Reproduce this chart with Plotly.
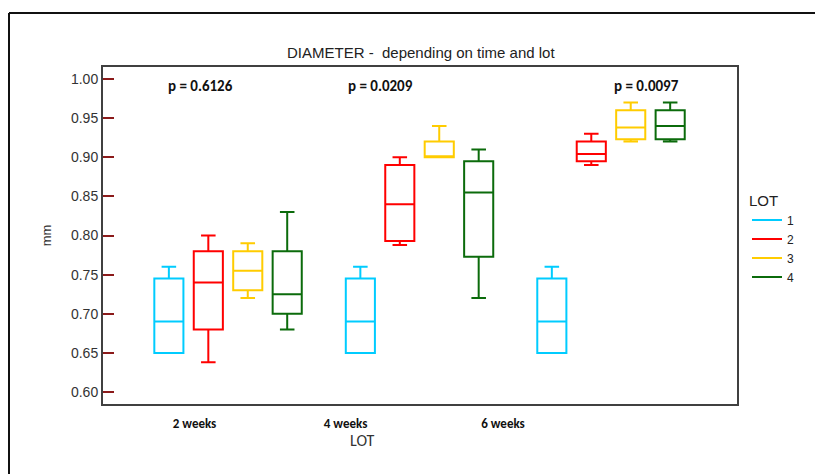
import plotly.graph_objects as go

# ---- data ----
groups = ["2 weeks", "4 weeks", "6 weeks"]
lots = ["1", "2", "3", "4"]
p_values = ["p = 0.6126", "p = 0.0209", "p = 0.0097"]

lot1_min = [0.65, 0.65, 0.65]
lot1_q1 = [0.65, 0.65, 0.65]
lot1_med = [0.69, 0.69, 0.69]
lot1_q3 = [0.745, 0.745, 0.745]
lot1_max = [0.76, 0.76, 0.76]

lot2_min = [0.638, 0.788, 0.89]
lot2_q1 = [0.68, 0.793, 0.895]
lot2_med = [0.74, 0.84, 0.904]
lot2_q3 = [0.78, 0.89, 0.92]
lot2_max = [0.80, 0.90, 0.93]

lot3_min = [0.72, 0.90, 0.92]
lot3_q1 = [0.73, 0.90, 0.923]
lot3_med = [0.755, 0.90, 0.938]
lot3_q3 = [0.78, 0.92, 0.96]
lot3_max = [0.79, 0.94, 0.97]

lot4_min = [0.68, 0.72, 0.92]
lot4_q1 = [0.70, 0.773, 0.923]
lot4_med = [0.725, 0.855, 0.94]
lot4_q3 = [0.78, 0.895, 0.96]
lot4_max = [0.83, 0.91, 0.97]

stats = [
    (lot1_min, lot1_q1, lot1_med, lot1_q3, lot1_max),
    (lot2_min, lot2_q1, lot2_med, lot2_q3, lot2_max),
    (lot3_min, lot3_q1, lot3_med, lot3_q3, lot3_max),
    (lot4_min, lot4_q1, lot4_med, lot4_q3, lot4_max),
]

# ---- styling / layout ----
colors = ["#00CCFF", "#FF0000", "#FFCC00", "#0B6B0B"]
lot_spacing = 0.206
box_width = 0.152
group_pos = [1, 2, 3]
label_shift = [-0.175, -0.386, -0.564]   # tick labels sit left of group centres in the reference
pval_shift = [-0.146, -0.204, 0.183]

# page has an 8px body margin; compensate so the plot area lands at x 103-737, y 67-404
OFF = 8
W, H = 823, 474
PL, PR, PT, PB = 103, 737, 67, 404
calibri = "Carlito, Lato, Open Sans, sans-serif"
arial = "Liberation Sans, Arial, sans-serif"

fig = go.Figure()
for i, (lo, q1, med, q3, hi) in enumerate(stats):
    xs = [g + (i - 1.5) * lot_spacing for g in group_pos]
    fig.add_trace(go.Box(
        x=xs, lowerfence=lo, q1=q1, median=med, q3=q3, upperfence=hi,
        width=box_width, whiskerwidth=0.5, boxpoints=False,
        line=dict(color=colors[i], width=2), fillcolor="rgba(0,0,0,0)",
        name=lots[i], showlegend=False, hoverinfo="skip",
    ))
    fig.add_trace(go.Scatter(
        x=[None], y=[None], mode="lines", name=lots[i],
        line=dict(color=colors[i], width=2),
    ))


def px_x(px):
    return (px - PL) / (PR - PL)


def px_y(py):
    return (PB - py) / (PB - PT)


annotations = []
for g, s, txt in zip(group_pos, pval_shift, p_values):
    annotations.append(dict(
        x=g + s, y=0.991, xref="x", yref="y", text="<b>" + txt + "</b>", showarrow=False,
        font=dict(family=calibri, size=15, color="#111111"),
        xanchor="center", yanchor="middle",
    ))
annotations.append(dict(
    x=px_x(362), y=px_y(441), xref="paper", yref="paper", text="LOT",
    showarrow=False, font=dict(family=calibri, size=16, color="#333333"),
    xanchor="center", yanchor="middle",
))
annotations.append(dict(
    x=px_x(421), y=px_y(53), xref="paper", yref="paper",
    text="DIAMETER -  depending on time and lot",
    showarrow=False, font=dict(family=arial, size=15, color="#222222"),
    xanchor="center", yanchor="middle",
))

fig.update_layout(
    width=W, height=H,
    margin=dict(l=PL - OFF, r=W - PR + OFF, t=PT - OFF, b=H - PB + OFF, autoexpand=False),
    paper_bgcolor="white", plot_bgcolor="white",
    showlegend=True,
    legend=dict(
        title=dict(text="LOT", font=dict(family=arial, size=15, color="#222222")),
        x=px_x(747), xanchor="left", y=px_y(186), yanchor="top",
        font=dict(family=arial, size=12, color="#222222"),
        tracegroupgap=0, itemwidth=30, bgcolor="rgba(0,0,0,0)",
    ),
    annotations=annotations,
    shapes=[
        dict(type="line", xref="paper", yref="paper", x0=px_x(9), x1=1.3,
             y0=px_y(13), y1=px_y(13), line=dict(color="#111111", width=2)),
        dict(type="line", xref="paper", yref="paper", x0=px_x(9), x1=px_x(9),
             y0=px_y(13), y1=-0.4, line=dict(color="#111111", width=2)),
    ],
)

fig.update_xaxes(
    range=[0.347, 3.658], tickmode="array",
    tickvals=[g + s for g, s in zip(group_pos, label_shift)], ticktext=groups,
    ticks="", showgrid=False, zeroline=False, ticklabelstandoff=6,
    showline=True, linecolor="#404040", linewidth=2, mirror=True,
    tickfont=dict(family=calibri, size=13, color="#111111", weight="bold"),
)
fig.update_yaxes(
    range=[0.5847, 1.0153], tickmode="array",
    tickvals=[0.60, 0.65, 0.70, 0.75, 0.80, 0.85, 0.90, 0.95, 1.00],
    tickformat=".2f", ticks="inside", ticklen=11, tickwidth=2, tickcolor="#8B1A1A",
    showgrid=False, zeroline=False,
    showline=True, linecolor="#404040", linewidth=2, mirror=True,
    tickfont=dict(family=arial, size=14, color="#333333"),
    title=dict(text="mm", font=dict(family=arial, size=13, color="#333333"), standoff=16),
)

fig.write_html("out.html")
